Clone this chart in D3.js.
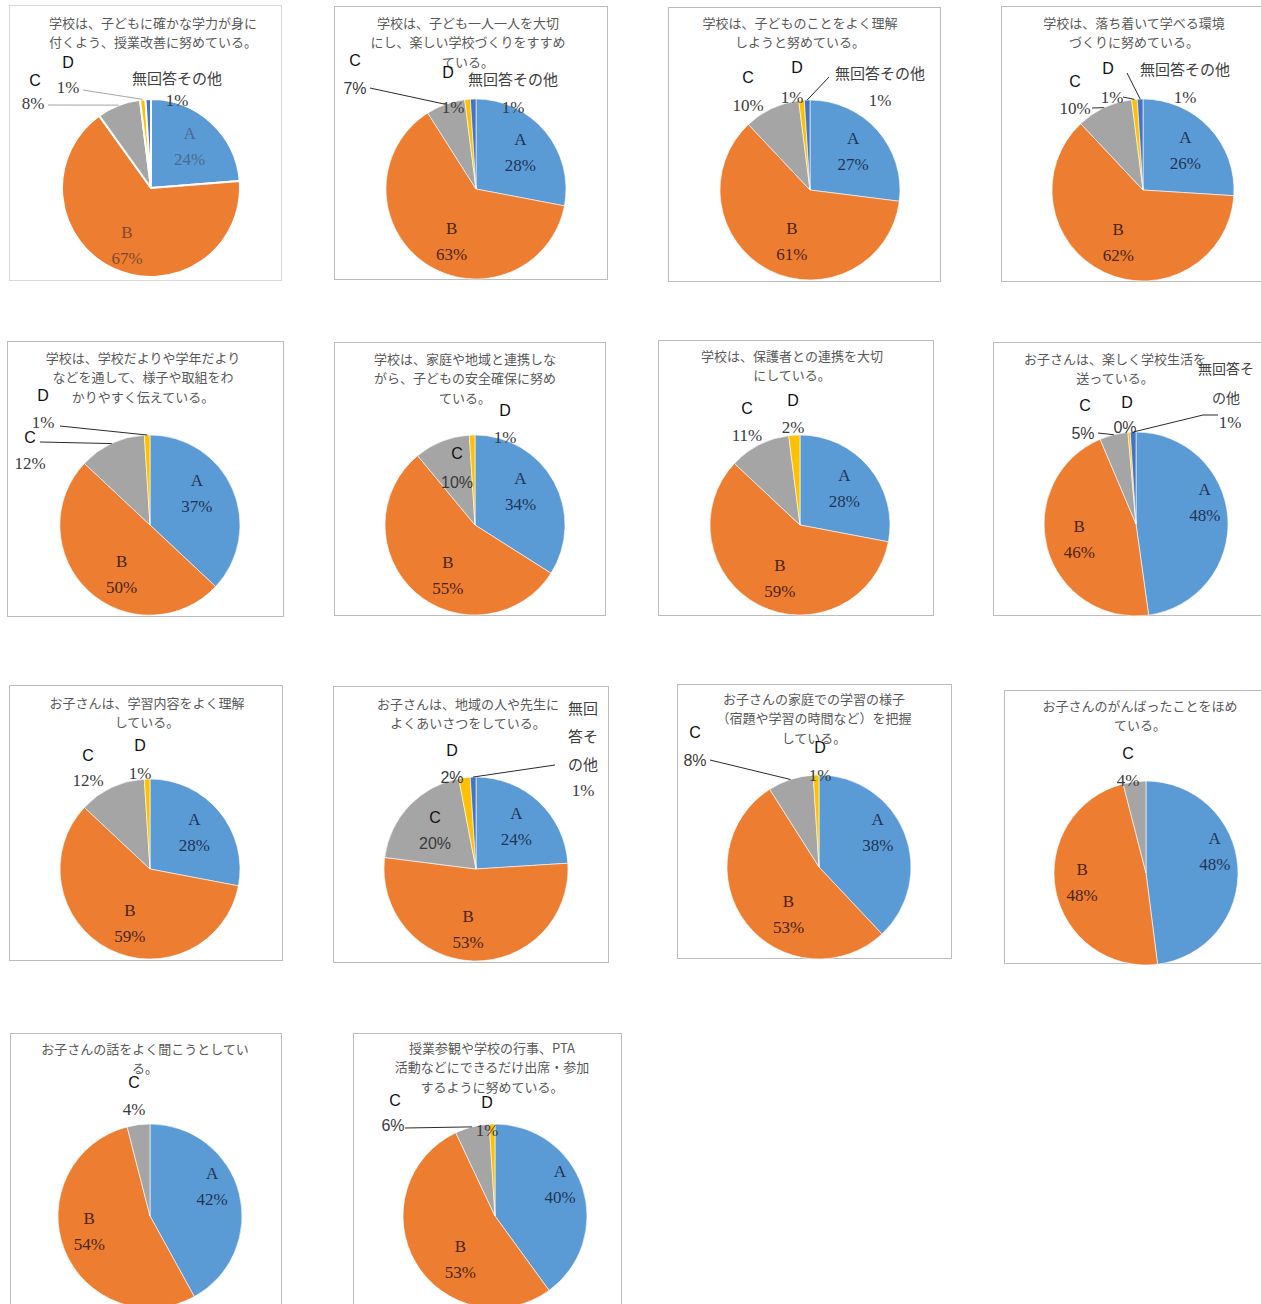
<!DOCTYPE html>
<html><head><meta charset="utf-8">
<script src="https://cdn.jsdelivr.net/npm/d3@7"></script>
<style>body{margin:0;background:#fff}</style>
</head><body>
<svg id="c" width="1261" height="1304"></svg>
<script>
// ---- data ----
const categories = ["A","B","C","D","無回答その他"];
const colors = ["#5B9BD5","#ED7D31","#A5A5A5","#FFC000","#4472C4"];
const titles = [
 ["学校は、子どもに確かな学力が身に","付くよう、授業改善に努めている。"],
 ["学校は、子ども一人一人を大切","にし、楽しい学校づくりをすすめ","ている。"],
 ["学校は、子どものことをよく理解","しようと努めている。"],
 ["学校は、落ち着いて学べる環境","づくりに努めている。"],
 ["学校は、学校だよりや学年だより","などを通して、様子や取組をわ","かりやすく伝えている。"],
 ["学校は、家庭や地域と連携しな","がら、子どもの安全確保に努め","ている。"],
 ["学校は、保護者との連携を大切","にしている。"],
 ["お子さんは、楽しく学校生活を","送っている。"],
 ["お子さんは、学習内容をよく理解","している。"],
 ["お子さんは、地域の人や先生に","よくあいさつをしている。"],
 ["お子さんの家庭での学習の様子","（宿題や学習の時間など）を把握","している。"],
 ["お子さんのがんばったことをほめ","ている。"],
 ["お子さんの話をよく聞こうとしてい","る。"],
 ["授業参観や学校の行事、PTA","活動などにできるだけ出席・参加","するように努めている。"]
];
const valuesA = [24,28,27,26,37,34,28,48,28,24,38,48,42,40];
const valuesB = [67,63,61,62,50,55,59,46,59,53,53,48,54,53];
const valuesC = [8,7,10,10,12,10,11,5,12,20,8,4,4,6];
const valuesD = [1,1,1,1,1,1,2,0.4,1,2,1,null,null,1];
const valuesE = [1,1,1,1,null,null,null,1,null,1,null,null,null,null];
const series = [valuesA,valuesB,valuesC,valuesD,valuesE];

// ---- layout (positions/styles) ----
const layout = [
 {box:[9,5,272,275], c:[151,188], r:89, t:[144,17], light:true,
  adj:{1:[0,6]},
  out:[{k:2,n:[-116,-108],p:[-118,-85],lead:[[-103,-83]]},{k:3,n:[-83,-126],p:[-83,-101],lead:[[-68,-98]]},{k:4,n:[26,-111],p:[26,-88]}]},
 {box:[334,6,273,273], c:[476,189], r:90, t:[134,16],
  adj:{1:[8,5]},
  out:[{k:2,n:[-121,-129],p:[-121,-101],lead:[[-106,-101]],ps:1},{k:3,n:[-28,-117],p:[-23,-82]},{k:4,n:[37,-111],p:[37,-82]}]},
 {box:[668,7,272,274], c:[810,190], r:90, t:[132,15],
  adj:{1:[8,0]},
  out:[{k:2,n:[-62,-113],p:[-62,-85]},{k:3,n:[-13,-123],p:[-18,-93]},{k:4,n:[70,-118],p:[70,-90],lead:[[19,-113]]}]},
 {box:[1001,6,280,275], c:[1143,190], r:91, t:[133,16],
  adj:{},
  out:[{k:2,n:[-68,-109],p:[-68,-82],lead:[[-51,-82]]},{k:3,n:[-35,-122],p:[-31,-93],lead:[[-20,-93]]},{k:4,n:[42,-122],p:[42,-93],lead:[[-16,-117]]}]},
 {box:[7,341,276,275], c:[150,525], r:90, t:[136,16],
  adj:{0:[-6,-9],1:[11,8]},
  out:[{k:2,n:[-120,-88],p:[-120,-62],lead:[[-110,-83]]},{k:3,n:[-107,-130],p:[-107,-103],lead:[[-90,-99]]}]},
 {box:[334,342,271,273], c:[475,525], r:90, t:[131,16],
  adj:{0:[-5,-6],1:[11,7]},
  out:[{k:2,n:[-18,-72],p:[-18,-43],ps:1},{k:3,n:[30,-115],p:[30,-88]}]},
 {box:[658,340,275,275], c:[800,525], r:90, t:[134,15],
  adj:{1:[6,2]},
  out:[{k:2,n:[-53,-117],p:[-53,-90]},{k:3,n:[-7,-125],p:[-7,-98]}]},
 {box:[993,342,290,273], c:[1136,524], r:92, t:[122,16],
  adj:{0:[10,-17]},
  out:[{k:2,n:[-51,-119],p:[-53,-91],lead:[[-38,-91]],ps:1},{k:3,n:[-9,-122],p:[-11,-97],ps:1},{k:4,n:[90,-156],p:[94,-102],wrap:4,ls:29,fs:14,lead:[[82,-109],[67,-109]]}]},
 {box:[9,685,273,275], c:[150,869], r:90, t:[138,17],
  adj:{1:[6,3]},
  out:[{k:2,n:[-62,-114],p:[-62,-89]},{k:3,n:[-10,-124],p:[-10,-96]}]},
 {box:[333,686,275,276], c:[476,869], r:92, t:[135,17],
  adj:{1:[-6,2]},
  out:[{k:2,n:[-41,-52],p:[-41,-26],ps:1},{k:3,n:[-24,-119],p:[-24,-92],ps:1},{k:4,n:[107,-162],p:[107,-79],wrap:2,ls:28,lead:[[79,-104]]}]},
 {box:[677,684,274,274], c:[819,867], r:92, t:[137,14],
  adj:{0:[4,-13],1:[16,11]},
  out:[{k:2,n:[-124,-135],p:[-124,-107],lead:[[-109,-107]],ps:1},{k:3,n:[1,-120],p:[1,-92]}]},
 {box:[1004,690,280,273], c:[1146,873], r:92, t:[136,15],
  adj:{0:[10,-18],1:[-6,-2]},
  out:[{k:2,n:[-18,-120],p:[-18,-93]}]},
 {box:[10,1033,271,290], c:[150,1216], r:92, t:[135,15],
  adj:{0:[5,-15],1:[-6,-6]},
  out:[{k:2,n:[-16,-134],p:[-16,-107]}]},
 {box:[353,1033,268,290], c:[495,1216], r:92, t:[139,14],
  adj:{0:[9,-13],1:[16,14]},
  out:[{k:2,n:[-100,-116],p:[-102,-91],lead:[[-90,-88]],ps:1},{k:3,n:[-8,-114],p:[-8,-86]}]}
];

const SERIF = "'Liberation Serif','Times New Roman',serif";
const SANS = "'Liberation Sans',Arial,sans-serif";
const CJK = "'Noto Sans CJK JP','Noto Sans',sans-serif";

const svg = d3.select("#c");

layout.forEach((L, i) => {
  const g = svg.append("g");
  // box
  g.append("rect").attr("x", L.box[0]+0.5).attr("y", L.box[1]+0.5)
    .attr("width", L.box[2]).attr("height", L.box[3])
    .attr("fill", "#fff").attr("stroke", L.light ? "#d9d9d9" : "#bcbcbc").attr("stroke-width", 1);
  // title
  titles[i].forEach((line, j) => {
    g.append("text").attr("x", L.box[0] + L.t[0]).attr("y", L.box[1] + L.t[1] + j*19.5)
      .attr("text-anchor", "middle").attr("dominant-baseline", "central")
      .attr("font-family", CJK).attr("font-size", 13).attr("fill", "#595959")
      .text(line);
  });

  const entries = categories.map((name, k) => ({k, name, v: series[k][i]})).filter(d => d.v != null);
  const arcs = d3.pie().sort(null).value(d => d.v)(entries);
  const arc = d3.arc().innerRadius(0).outerRadius(L.r);
  const labelArc = d3.arc().innerRadius(L.r*0.64).outerRadius(L.r*0.64);
  const pg = g.append("g").attr("transform", `translate(${L.c[0]},${L.c[1]})`);

  pg.selectAll("path").data(arcs).join("path")
    .attr("d", arc)
    .attr("fill", d => colors[d.data.k])
    .attr("stroke", "#fff").attr("stroke-width", L.light ? 2 : 0.6)
    .attr("stroke-linejoin", "round");

  const pct = d => Math.round(d.data.v) + "%";

  // inside labels (A, B)
  arcs.filter(d => d.data.k < 2).forEach(d => {
    const [x0, y0] = labelArc.centroid(d);
    const a = (L.adj && L.adj[d.data.k]) || [0,0];
    const x = x0 + a[0], y = y0 + a[1];
    const col = d.data.k === 0 ? (L.light ? "#4a6a90" : "#1f3456") : (L.light ? "#7d4a2e" : "#4a2410");
    pg.append("text").attr("x", x).attr("y", y - 13)
      .attr("text-anchor", "middle").attr("dominant-baseline", "central")
      .attr("font-family", SERIF).attr("font-size", 17).attr("fill", col).text(d.data.name);
    pg.append("text").attr("x", x).attr("y", y + 13)
      .attr("text-anchor", "middle").attr("dominant-baseline", "central")
      .attr("font-family", SERIF).attr("font-size", 17).attr("fill", col).text(pct(d));
  });

  // outside / placed labels
  L.out.forEach(o => {
    const d = arcs.find(a => a.data.k === o.k);
    if (!d) return;
    const name = d.data.name;
    const isJp = o.k === 4;
    let lines = [name];
    if (o.wrap) { lines = []; for (let s = 0; s < name.length; s += o.wrap) lines.push(name.slice(s, s + o.wrap)); }
    const ls = o.ls || 28;
    lines.forEach((ln, j) => {
      pg.append("text").attr("x", o.n[0]).attr("y", o.n[1] + j*ls)
        .attr("text-anchor", "middle").attr("dominant-baseline", "central")
        .attr("font-family", isJp ? CJK : SANS).attr("font-size", isJp ? (o.fs || 15) : 16)
        .attr("fill", isJp ? "#404040" : "#111").text(ln);
    });
    pg.append("text").attr("x", o.p[0]).attr("y", o.p[1])
      .attr("text-anchor", "middle").attr("dominant-baseline", "central")
      .attr("font-family", o.ps ? SANS : SERIF).attr("font-size", o.ps ? 16 : 17)
      .attr("fill", "#3a3a3a").text(pct(d));
    if (o.lead) {
      const mid = (d.startAngle + d.endAngle) / 2;
      const end = [Math.sin(mid) * L.r, -Math.cos(mid) * L.r];
      const pts = o.lead.concat([end]);
      pg.append("path").attr("d", d3.line()(pts)).attr("fill", "none")
        .attr("stroke", L.light ? "#a6a6a6" : "#2b2b2b").attr("stroke-width", 1);
    }
  });
});
</script>
</body></html>
